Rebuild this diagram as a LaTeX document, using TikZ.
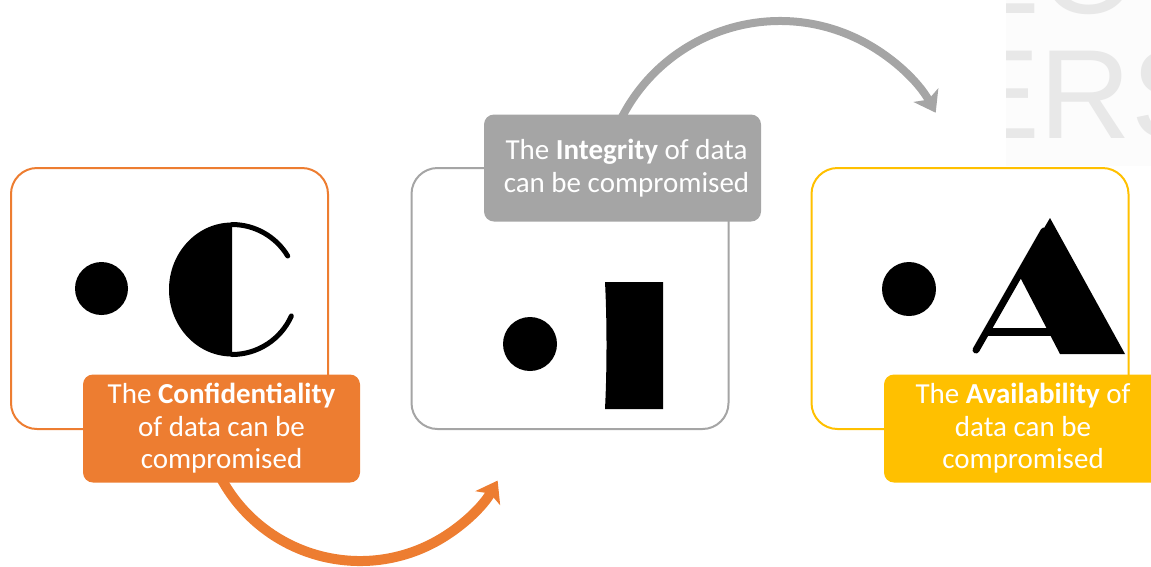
\documentclass[tikz,border=0pt]{standalone}
\usepackage{fontspec}
\setmainfont{Carlito}
\newfontfamily\markfont{Liberation Sans}
\usetikzlibrary{arrows.meta}
\definecolor{ciaorange}{HTML}{ED7D31}
\definecolor{ciagray}{HTML}{A5A5A5}
\definecolor{ciayellow}{HTML}{FFC000}
\definecolor{markgray}{HTML}{E8E8E8}
\definecolor{panelgray}{HTML}{FCFCFC}
\begin{document}
\begin{tikzpicture}[x=1pt,y=-1pt,
  frame/.style={draw=#1, line width=2pt, rounded corners=26pt, fill=white,
    minimum width=317pt, minimum height=261pt, inner sep=0pt},
  tag/.style={fill=#1, rounded corners=10pt, text=white, align=center,
    font=\fontsize{29}{32.5}\selectfont, minimum height=108pt, inner sep=0pt},
  flow/.style={draw=#1, line width=10pt,
    -{Stealth[length=20pt,width=28pt,inset=5pt]}},
  dot/.style={fill=black, draw=none}
]
\useasboundingbox (0,0) rectangle (1151,566);
\clip (0,0) rectangle (1151,566);

% faint lettering panel on the right
\begin{scope}
  \clip (1006,0) rectangle (1151,166);
  \fill[panelgray] (1006,0) rectangle (1151,166);
  \node[anchor=base west, inner sep=0pt, text=markgray,
        font=\markfont\fontsize{127}{127}\selectfont] (mark1) at (955,138) {ERS};
  \node[anchor=base west, inner sep=0pt, text=markgray,
        font=\markfont\fontsize{127}{127}\selectfont] (mark2) at (955,13) {EO};
\end{scope}

% the three outlined panels
\node[frame=ciaorange] (box1) at (169.5,298.5) {};
\node[frame=ciagray]   (box2) at (570,298.5) {};
\node[frame=ciayellow] (box3) at (970,298.5) {};

% bullet + C
\fill[dot] (101.5,288.5) circle[radius=26.5];
\fill (232,222.5) arc[start angle=270, end angle=90, x radius=63, y radius=67] -- cycle;
\draw[line width=5pt, line cap=round] (232,289.5) ++(329:65) arc[start angle=329, end angle=270, radius=65];
\draw[line width=5pt, line cap=round] (232,289.5) ++(24:65) arc[start angle=24, end angle=90, radius=65];

% bullet + I
\fill[dot] (530,344) circle[radius=27];
\fill (605,282) -- (663,282) -- (663,409) -- (605,409)
  .. controls (607,370) and (607,320) .. (605,282) -- cycle;

% bullet + A
\fill[dot] (909,289) circle[radius=27];
\fill (1050,218) -- (1125,354) -- (1060,354) -- (1021,279) -- (1014,279) -- cycle;
\draw[line width=7pt, line cap=round] (1044,231) -- (976,350);
\fill (987,328) rectangle (1052,336);

% curved arrows between the stages
\coordinate (o1) at (221.8,479.6);
\draw[flow=ciaorange] (o1) arc[start angle=151, end angle=29.4, radius=158];
\coordinate (g1) at (621.4,118.2);
\draw[flow=ciagray, line width=8pt] (g1) arc[start angle=207, end angle=331, radius=178];

% stage labels
\node[tag=ciaorange, minimum width=277pt] (lab1) at (221.5,428.5)
  {The \textbf{Confidentiality}\\of data can be\\compromised};
\node[tag=ciagray, minimum width=277pt, minimum height=107pt] (lab2) at (622.5,168)
  {\hspace*{8pt}The \textbf{Integrity} of data\\\hspace*{8pt}can be compromised};
\node[tag=ciayellow, minimum width=278pt] (lab3) at (1023,428.5)
  {The \textbf{Availability} of\\data can be\\compromised};
\end{tikzpicture}
\end{document}
